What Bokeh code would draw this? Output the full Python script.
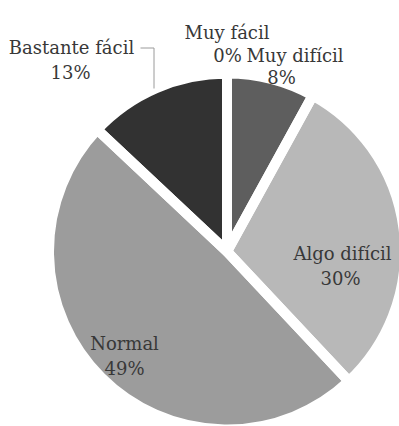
import math
from bokeh.plotting import figure
from bokeh.models import Range1d, ColumnDataSource
from bokeh.core.properties import value
from bokeh.embed import file_html
from bokeh.resources import INLINE

# ---- data ----
categories = ["Muy fácil", "Muy difícil", "Algo difícil", "Normal", "Bastante fácil"]
percent = [0, 8, 30, 49, 13]
pct_labels = ["0%", "8%", "30%", "49%", "13%"]

# ---- styles / layout ----
colors = ["#7a7a7a", "#5e5e5e", "#b8b8b8", "#9c9c9c", "#323232"]
W, H = 399, 426
CX, CY_SCREEN = 226.5, 251.0
R = 178
FONT = "DejaVu Serif"
FSIZE = "18px"
TEXT_COLOR = "#383838"

# label line anchors (screen coords: centre x, baseline y) - name line, pct line
name_pos = [(226.5, 32), (294.5, 55), (342, 253), (124, 343), (71, 47)]
pct_pos = [(227, 55), (281, 77), (340, 278), (124, 368), (70, 72)]
leader_x = [140, 153.5, 153.5]
leader_y = [47.5, 47.5, 88]


def fy(y):
    return H - y


total = sum(percent)
starts, ends, cols = [], [], []
cum = 0.0
for v, c in zip(percent, colors):
    a0 = math.pi / 2 - 2 * math.pi * cum / total
    cum += v
    a1 = math.pi / 2 - 2 * math.pi * cum / total
    if v > 0:
        starts.append(a0)
        ends.append(a1)
        cols.append(c)

src = ColumnDataSource(dict(x=[CX] * len(starts), y=[fy(CY_SCREEN)] * len(starts),
                            start=starts, end=ends, color=cols))

p = figure(width=W, height=H, x_range=Range1d(0, W), y_range=Range1d(0, H),
           x_axis_type=None, y_axis_type=None, toolbar_location=None,
           output_backend="svg", min_border=0, outline_line_color=None)
p.grid.visible = False
p.background_fill_color = "white"
p.border_fill_color = "white"

p.wedge(x="x", y="y", radius=R, start_angle="start", end_angle="end",
        direction="clock", fill_color="color", line_color=None, source=src)
p.wedge(x="x", y="y", radius=R, start_angle="start", end_angle="end",
        direction="clock", fill_alpha=0, line_color="white", line_width=10,
        source=src)

p.line(leader_x, [fy(v) for v in leader_y], line_color="#9a9a9a", line_width=1)

p.text(x=[q[0] for q in name_pos], y=[fy(q[1]) for q in name_pos], text=categories,
       text_align="center", text_baseline="alphabetic", text_font=value(FONT),
       text_font_size=FSIZE, text_color=TEXT_COLOR)
p.text(x=[q[0] for q in pct_pos], y=[fy(q[1]) for q in pct_pos], text=pct_labels,
       text_align="center", text_baseline="alphabetic", text_font=value(FONT),
       text_font_size=FSIZE, text_color=TEXT_COLOR)

open("out.html", "w").write(file_html(p, INLINE))
